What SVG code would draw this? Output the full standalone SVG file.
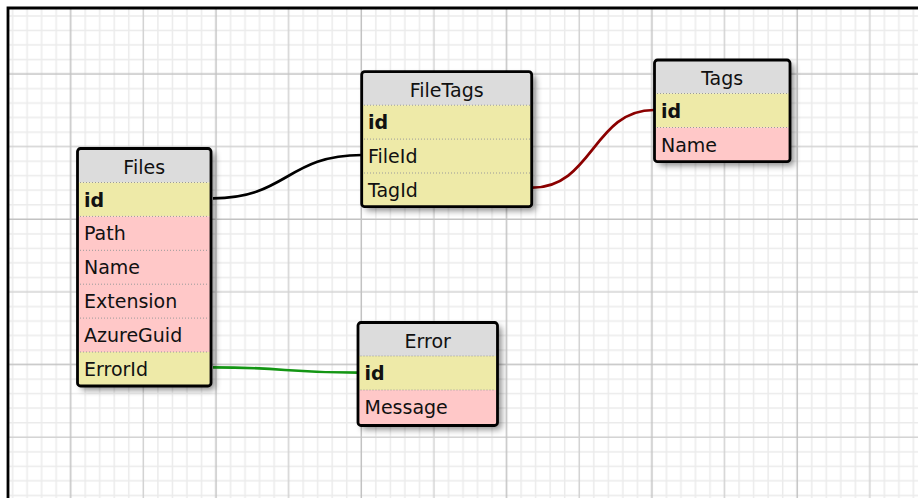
<svg xmlns="http://www.w3.org/2000/svg" width="918" height="498" viewBox="0 0 918 498">
  <style>
    .hdr { fill: #dcdcdc; }
    .key { fill: #eeeaa8; }
    .col { fill: #ffc8c8; }
    .sep { stroke: #9a9a9a; stroke-width: 1; stroke-dasharray: 1 2; fill: none; }
    .frame { fill: none; stroke: #000; stroke-width: 2.8; }
    .back { fill: #fff; filter: url(#shadow); }
    .ttl { font-family: "DejaVu Sans", Verdana, sans-serif; font-size: 19px; fill: #111; text-anchor: middle; }
    .lbl { font-family: "DejaVu Sans", Verdana, sans-serif; font-size: 19px; fill: #111; }
    .pk { font-weight: bold; }
    .link { fill: none; stroke-width: 2.7; }
  </style>
  <defs>
    <filter id="shadow" x="-20%" y="-20%" width="150%" height="150%">
      <feDropShadow dx="4" dy="4" stdDeviation="3" flood-color="#000" flood-opacity="0.45"/>
    </filter>
    <pattern id="grid" patternUnits="userSpaceOnUse" x="63.435" y="66.735" width="145.3" height="145.3">
      <g stroke="#ebebeb" stroke-width="1.5" fill="none">
        <path d="M21.795,0V145.3M36.325,0V145.3M50.855,0V145.3M65.385,0V145.3M94.445,0V145.3M108.975,0V145.3M123.505,0V145.3M138.035,0V145.3"/>
        <path d="M0,21.795H145.3M0,36.325H145.3M0,50.855H145.3M0,65.385H145.3M0,94.445H145.3M0,108.975H145.3M0,123.505H145.3M0,138.035H145.3"/>
      </g>
      <path d="M79.915,0V145.3M0,79.915H145.3" stroke="#d2d2d2" stroke-width="1.5"/>
      <path d="M7.265,0V145.3M0,7.265H145.3" stroke="#c2c2c2" stroke-width="1.5"/>
    </pattern>
  </defs>

  <!-- canvas with grid and its top/left edge -->
  <rect width="918" height="498" fill="#fff"/>
  <rect x="8" y="8" width="910" height="490" fill="url(#grid)"/>
  <path d="M8,498V8H918" fill="none" stroke="#000" stroke-width="2.8"/>

  <g id="connectors">
    <path class="link" stroke="#000" d="M213,198.3C287,198.3 287,155 362,155"/>
    <path class="link" stroke="#8b0000" d="M532,187.7C593,187.7 593,110 654,110"/>
    <path class="link" stroke="#149614" d="M213,367.3C285,367.3 285,372.7 358,372.7"/>
  </g>

  <g id="files">
    <rect class="back" x="77.5" y="148.5" width="133.5" height="237.5" rx="3"/>
    <rect class="hdr" x="77.5" y="148.5" width="133.5" height="34"/>
    <rect class="key" x="77.5" y="182.5" width="133.5" height="33.9"/>
    <rect class="col" x="77.5" y="216.4" width="133.5" height="135.6"/>
    <rect class="key" x="77.5" y="352" width="133.5" height="34"/>
    <path class="sep" d="M80,182.5H209M80,216.4H209M80,250.3H209M80,284.2H209M80,318.1H209M80,352H209"/>
    <rect class="frame" x="77.5" y="148.5" width="133.5" height="237.5" rx="3"/>
    <text class="ttl" x="144.2" y="173.5">Files</text>
    <text class="lbl pk" x="84" y="206.5">id</text>
    <text class="lbl" x="84" y="240.4">Path</text>
    <text class="lbl" x="84" y="274.3">Name</text>
    <text class="lbl" x="84" y="308.2">Extension</text>
    <text class="lbl" x="84" y="342">AzureGuid</text>
    <text class="lbl" x="84" y="376">ErrorId</text>
  </g>

  <g id="filetags">
    <rect class="back" x="361.7" y="71.7" width="170" height="135" rx="3"/>
    <rect class="hdr" x="361.7" y="71.7" width="170" height="33.5"/>
    <rect class="key" x="361.7" y="105.2" width="170" height="101.5"/>
    <path class="sep" d="M364,105.2H530M364,139.1H530M364,173H530"/>
    <rect class="frame" x="361.7" y="71.7" width="170" height="135" rx="3"/>
    <text class="ttl" x="446.7" y="96.5">FileTags</text>
    <text class="lbl pk" x="368" y="129.2">id</text>
    <text class="lbl" x="368" y="163.1">FileId</text>
    <text class="lbl" x="368" y="197">TagId</text>
  </g>

  <g id="tags">
    <rect class="back" x="654.5" y="60" width="135.5" height="101.7" rx="3"/>
    <rect class="hdr" x="654.5" y="60" width="135.5" height="33.5"/>
    <rect class="key" x="654.5" y="93.5" width="135.5" height="34"/>
    <rect class="col" x="654.5" y="127.5" width="135.5" height="34.2"/>
    <path class="sep" d="M657,93.5H788M657,127.5H788"/>
    <rect class="frame" x="654.5" y="60" width="135.5" height="101.7" rx="3"/>
    <text class="ttl" x="722.2" y="85">Tags</text>
    <text class="lbl pk" x="661" y="117.5">id</text>
    <text class="lbl" x="661" y="151.5">Name</text>
  </g>

  <g id="error">
    <rect class="back" x="358" y="322.5" width="139.5" height="103" rx="3"/>
    <rect class="hdr" x="358" y="322.5" width="139.5" height="33.5"/>
    <rect class="key" x="358" y="356" width="139.5" height="34"/>
    <rect class="col" x="358" y="390" width="139.5" height="35.5"/>
    <path class="sep" d="M360.5,356H495.5M360.5,390H495.5"/>
    <rect class="frame" x="358" y="322.5" width="139.5" height="103" rx="3"/>
    <text class="ttl" x="427.7" y="347.5">Error</text>
    <text class="lbl pk" x="364.5" y="380">id</text>
    <text class="lbl" x="364.5" y="414">Message</text>
  </g>
</svg>
